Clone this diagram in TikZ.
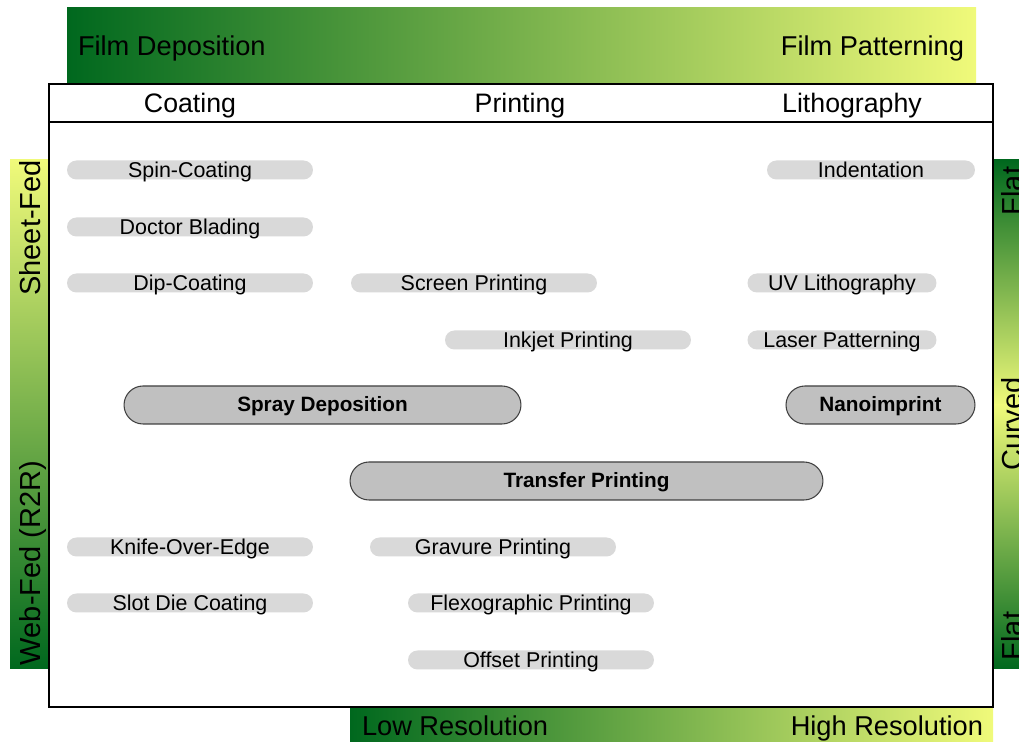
\documentclass[tikz,border=0pt]{standalone}
\usepackage{fontspec}
\setmainfont{Liberation Sans}
\usetikzlibrary{shapes.misc, positioning}

\definecolor{filmdark}{RGB}{0,104,30}
\definecolor{filmlight}{RGB}{240,250,122}
\definecolor{pillgray}{RGB}{217,217,217}
\definecolor{bulkgray}{RGB}{192,192,192}

\begin{document}
\begin{tikzpicture}[x=0.02cm, y=-0.02cm,
    every node/.style = {inner sep=0pt, outer sep=0pt},
    method/.style = {shape=rounded rectangle, fill=pillgray,
        minimum height=0.38cm, minimum width=4.92cm,
        text height=0.8em, text depth=0pt,
        font=\fontsize{12.2}{14}\selectfont},
    broad/.style = {shape=rounded rectangle, draw=black!75, line width=0.6pt,
        fill=bulkgray, minimum height=0.76cm,
        text height=0.78em, text depth=0pt,
        font=\fontsize{11.8}{14}\selectfont\bfseries},
    axislabel/.style = {anchor=base, font=\fontsize{15.5}{18}\selectfont},
    sidelabel/.style = {anchor=base, rotate=90, font=\fontsize{16.5}{18}\selectfont},
    column/.style = {anchor=base, font=\fontsize{15.2}{18}\selectfont}]
    \useasboundingbox (0,0) rectangle (1019,742);

    \shade[left color=filmdark, right color=filmlight] (67,8) rectangle (976,84);
    \shade[top color=filmlight, bottom color=filmdark] (10,160) rectangle (49,669);
    \shade[top color=filmdark, bottom color=filmlight] (993,160) rectangle (1019,405);
    \shade[top color=filmlight, bottom color=filmdark] (993,405) rectangle (1019,669);
    \shade[left color=filmdark, right color=filmlight] (350,707) rectangle (993,742);

    \draw[line width=1pt, fill=white] (49,84) rectangle (993,707);
    \draw[line width=1pt] (49,122) -- (993,122);

    \node[axislabel, anchor=base west] (deposition) at (78,56) {Film Deposition};
    \node[axislabel, anchor=base east] (patterning) at (964,56) {Film Patterning};
    \node[axislabel, anchor=base west] (lowres) at (362,736) {Low Resolution};
    \node[axislabel, anchor=base east] (highres) at (983,736) {High Resolution};
    \node[sidelabel] (sheetfed) at (40,228) {Sheet-Fed};
    \node[sidelabel] (webfed) at (40,563) {Web-Fed (R2R)};
    \node[sidelabel] (flattop) at (1022,191) {Flat};
    \node[sidelabel] (curved) at (1022,424) {Curved};
    \node[sidelabel] (flatbottom) at (1022,636) {Flat};

    \node[column] (coating) at (190,113) {Coating};
    \node[column] (printing) at (520,113) {Printing};
    \node[column] (lithography) at (852,113) {Lithography};

    \node[method] (spin) at (190,170) {Spin-Coating};
    \node[method] (doctor) at (190,227) {Doctor Blading};
    \node[method] (dip) at (190,283) {Dip-Coating};
    \node[method] (screen) at (474,283) {Screen Printing};
    \node[method] (inkjet) at (568,340) {Inkjet Printing};
    \node[method, minimum width=4.16cm] (indent) at (871,170) {Indentation};
    \node[method, minimum width=3.78cm] (uvlitho) at (842,283) {UV Lithography};
    \node[method, minimum width=3.78cm] (laser) at (842,340) {Laser Patterning};
    \node[method] (knife) at (190,547) {Knife-Over-Edge};
    \node[method] (slotdie) at (190,603) {Slot Die Coating};
    \node[method] (gravure) at (493,547) {Gravure Printing};
    \node[method] (flexo) at (531,603) {Flexographic Printing};
    \node[method] (offset) at (531,660) {Offset Printing};

    \node[broad, minimum width=7.94cm] (spray) at (322.5,405) {Spray Deposition};
    \node[broad, minimum width=3.78cm] (nano) at (880.5,405) {Nanoimprint};
    \node[broad, minimum width=9.46cm] (transfer) at (586.5,481) {Transfer Printing};
\end{tikzpicture}
\end{document}
